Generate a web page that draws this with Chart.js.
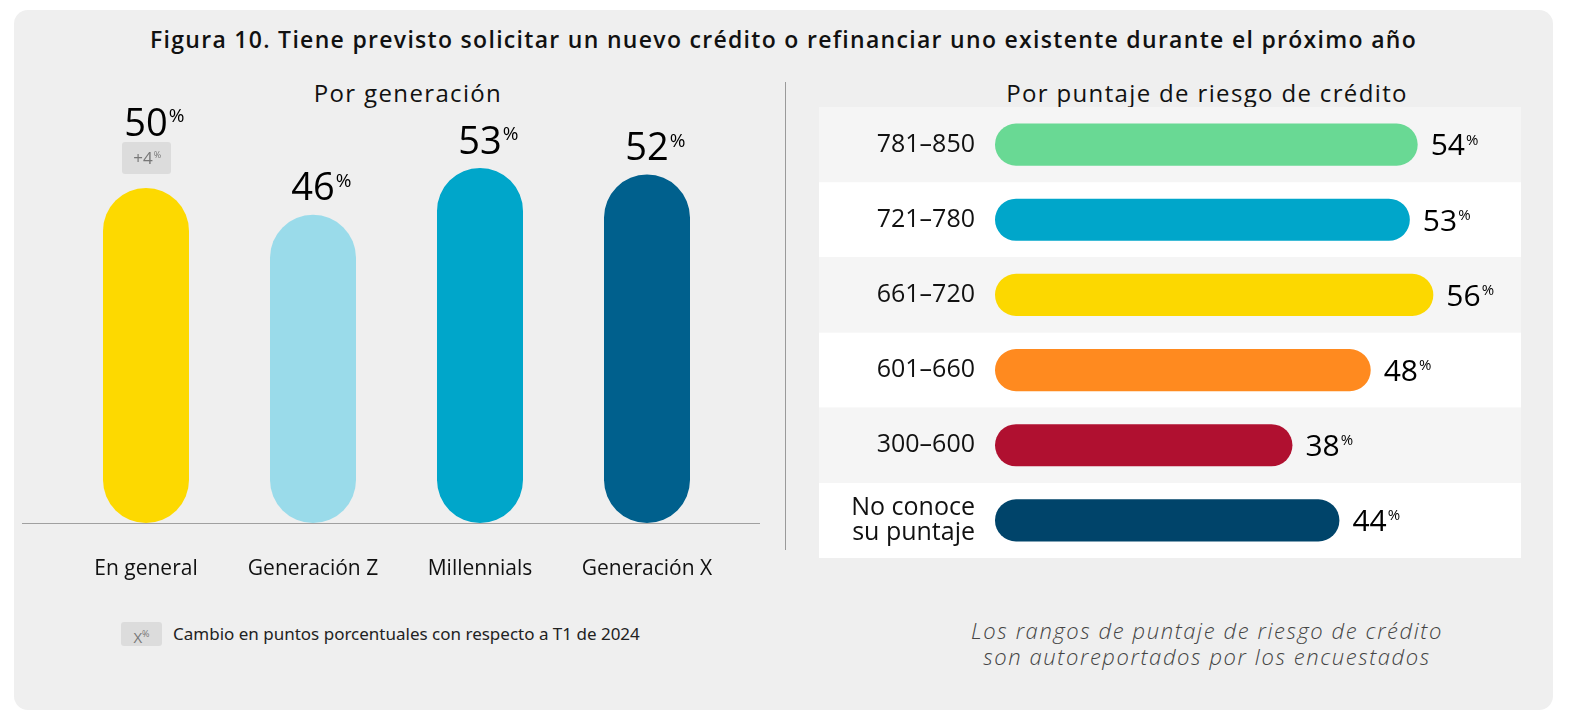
<!DOCTYPE html>
<html lang="es">
<head>
<meta charset="utf-8">
<script src="https://cdn.jsdelivr.net/npm/chart.js@4.4.1/dist/chart.umd.min.js"></script>
<style>
  body { margin: 0; background: #fff; width: 1574px; height: 719px; position: relative; overflow: hidden; font-family: "Open Sans", "Noto Sans", sans-serif; color: #111; }
  .card { position: absolute; left: 14px; top: 10px; width: 1539px; height: 700px; background: #efefef; border-radius: 14px; }
  .title { position: absolute; left: 14px; width: 1539px; top: 24px; line-height: 30px; text-align: center; font-size: 23px; font-weight: 600; letter-spacing: 1.3px; }
  .subtitle { position: absolute; top: 78px; line-height: 30px; text-align: center; font-size: 24px; font-weight: 500; letter-spacing: 1.35px; }
  .divider { position: absolute; left: 785px; top: 82px; width: 1px; height: 468px; background: #9a9a9a; }
  canvas { position: absolute; }
  .badge { position: absolute; left: 121px; top: 622px; width: 41px; height: 24px; background: #dcdcdc; border-radius: 3px; color: #777; font-size: 15px; line-height: 24px; text-align: center; }
  .badge sup { font-size: 9px; }
  .note { position: absolute; left: 173px; top: 621px; font-family: "Noto Sans", sans-serif; font-size: 17px; line-height: 26px; color: #222; }
  .source { position: absolute; left: 857px; width: 700px; top: 617px; text-align: center; font-style: italic; font-weight: 300; font-size: 22px; line-height: 26px; letter-spacing: 1.6px; color: #444; }
</style>
</head>
<body>
<div class="card"></div>
<div class="title">Figura 10. Tiene previsto solicitar un nuevo crédito o refinanciar uno existente durante el próximo año</div>
<div class="subtitle" style="left:208px;width:400px;">Por generación</div>
<div class="subtitle" style="left:857px;width:700px;">Por puntaje de riesgo de crédito</div>
<div class="divider"></div>
<canvas id="genChart" width="738" height="500" style="left:22px;top:100px;width:738px;height:500px;"></canvas>
<canvas id="scoreChart" width="702" height="451" style="left:819px;top:107px;width:702px;height:451px;"></canvas>
<div class="badge">X<sup>%</sup></div>
<div class="note">Cambio en puntos porcentuales con respecto a T1 de 2024</div>
<div class="source">Los rangos de puntaje de riesgo de crédito<br>son autoreportados por los encuestados</div>
<script>
// Por generación
const generations = ['En general', 'Generación Z', 'Millennials', 'Generación X'];
const generationValues = [50, 46, 53, 52];
const generationChanges = ['+4', null, null, null];
const generationColors = ['#fdd900', '#9adbea', '#00a6ca', '#00608d'];

// Por puntaje de riesgo de crédito
const scoreRanges = ['781–850', '721–780', '661–720', '601–660', '300–600', ['No conoce', 'su puntaje']];
const scoreValues = [54, 53, 56, 48, 38, 44];
const scoreColors = ['#69d994', '#00a6ca', '#fcd800', '#ff8a1f', '#b01030', '#00446a'];

const FONT = '"Open Sans", sans-serif';

// Draw "NN%" with a small raised percent sign
function drawPercent(ctx, value, x, cy, size, align, color) {
    const num = String(value);
    ctx.save();
    ctx.fillStyle = color || '#000';
    ctx.textBaseline = 'alphabetic';
    ctx.font = `400 ${size}px ${FONT}`;
    const w = ctx.measureText(num).width;
    const left = align === 'center' ? x - w / 2 : x;
    ctx.textAlign = 'left';
    ctx.fillText(num, left, cy + size * 0.36);
    ctx.font = `400 ${Math.round(size * 0.5)}px ${FONT}`;
    ctx.fillText('%', left + w + 1, cy + size * 0.0);
    ctx.restore();
}

// remove the automatic label padding so the plot area is exactly where we want it
function noScalePadding(scale) {
    scale.paddingTop = 0;
    scale.paddingBottom = 0;
    scale.paddingLeft = 0;
    scale.paddingRight = 0;
}

const generationLabels = {
    id: 'generationLabels',
    afterDatasetsDraw(chart) {
        const ctx = chart.ctx;
        const meta = chart.getDatasetMeta(0);
        const yZero = chart.scales.y.getPixelForValue(0);

        // baseline across the whole panel
        ctx.save();
        ctx.strokeStyle = '#a0a0a0';
        ctx.lineWidth = 1;
        ctx.beginPath();
        ctx.moveTo(0, yZero + 0.5);
        ctx.lineTo(chart.width, yZero + 0.5);
        ctx.stroke();
        ctx.restore();

        meta.data.forEach((bar, i) => {
            const change = generationChanges[i];
            if (change) {
                ctx.save();
                ctx.fillStyle = '#dcdcdc';
                ctx.beginPath();
                ctx.roundRect(bar.x - 24, bar.y - 46, 49, 32, 3);
                ctx.fill();
                ctx.restore();
                drawPercent(ctx, change, bar.x - 3, bar.y - 30, 17, 'center', '#777');
                drawPercent(ctx, generationValues[i], bar.x, bar.y - 66, 38, 'center', '#000');
            } else {
                drawPercent(ctx, generationValues[i], bar.x, bar.y - 28, 38, 'center', '#000');
            }
        });
    }
};

const rowBands = {
    id: 'rowBands',
    beforeDraw(chart) {
        const ctx = chart.ctx;
        const y = chart.scales.y;
        const rowH = chart.chartArea.height / scoreRanges.length;
        ctx.save();
        scoreRanges.forEach((_, i) => {
            ctx.fillStyle = i % 2 === 0 ? '#f5f5f5' : '#ffffff';
            ctx.fillRect(0, y.getPixelForValue(i) - rowH / 2, chart.width, rowH);
        });
        ctx.restore();
    }
};

const scoreLabels = {
    id: 'scoreLabels',
    afterDatasetsDraw(chart) {
        const ctx = chart.ctx;
        chart.getDatasetMeta(0).data.forEach((bar, i) => {
            drawPercent(ctx, scoreValues[i], bar.x + 13, bar.y, 30, 'left', '#000');
        });
    }
};

new Chart(document.getElementById('genChart'), {
    type: 'bar',
    data: {
        labels: generations,
        datasets: [{
            data: generationValues,
            backgroundColor: generationColors,
            borderRadius: 43,
            borderSkipped: false,
            categoryPercentage: 1,
            barPercentage: 0.515
        }]
    },
    options: {
        responsive: false,
        animation: false,
        layout: { padding: { top: 21, left: 40.5, right: 29.5, bottom: 0 } },
        plugins: { legend: { display: false }, tooltip: { enabled: false } },
        scales: {
            x: {
                grid: { display: false, drawTicks: false },
                border: { display: false },
                ticks: { color: '#111', font: { family: 'Open Sans', size: 21, weight: 500 }, padding: 33, maxRotation: 0, autoSkip: false },
                afterFit: scale => { scale.height = 77; noScalePadding(scale); }
            },
            y: { display: false, min: 0, max: 60 }
        }
    },
    plugins: [generationLabels]
});

new Chart(document.getElementById('scoreChart'), {
    type: 'bar',
    data: {
        labels: scoreRanges,
        datasets: [{
            data: scoreValues,
            backgroundColor: scoreColors,
            borderRadius: 21,
            borderSkipped: false,
            categoryPercentage: 1,
            barPercentage: 0.56
        }]
    },
    options: {
        indexAxis: 'y',
        responsive: false,
        animation: false,
        layout: { padding: 0 },
        plugins: { legend: { display: false }, tooltip: { enabled: false } },
        scales: {
            x: { display: false, min: 0, max: 67.2 },
            y: {
                grid: { display: false, drawTicks: false },
                border: { display: false },
                ticks: { color: '#111', font: { family: 'Open Sans', size: 25, weight: 500, lineHeight: 1.0 }, padding: 20 },
                afterFit: scale => { scale.width = 176; noScalePadding(scale); }
            }
        }
    },
    plugins: [rowBands, scoreLabels]
});
</script>
</body>
</html>
